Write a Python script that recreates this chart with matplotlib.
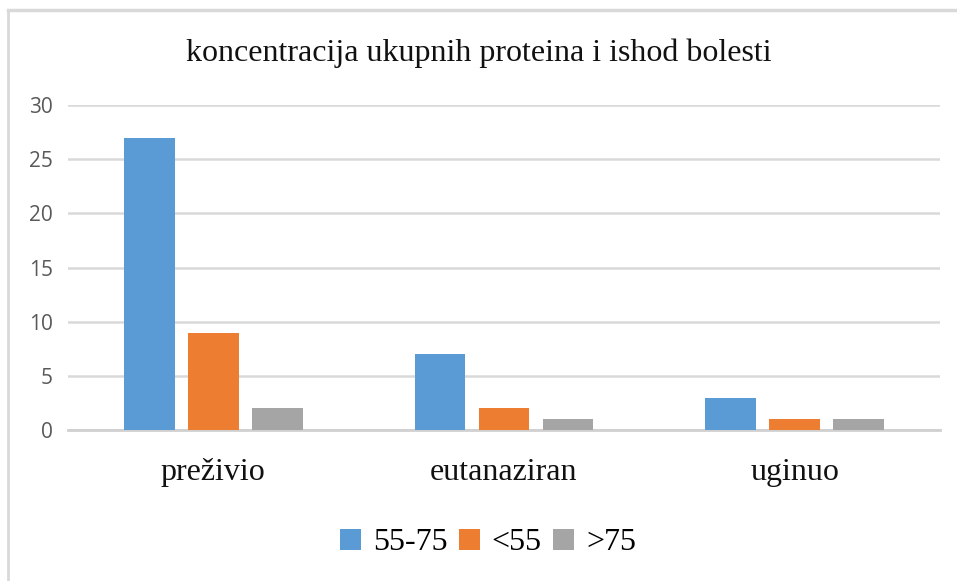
import matplotlib
matplotlib.use("Agg")
import matplotlib.pyplot as plt
import numpy as np
from matplotlib.lines import Line2D

categories = ["preživio", "eutanaziran", "uginuo"]
series_names = ["55-75", "<55", ">75"]
s_55_75 = [27, 7, 3]
s_lt55 = [9, 2, 1]
s_gt75 = [2, 1, 1]
colors = ["#5B9BD5", "#ED7D31", "#A5A5A5"]
yticks = [0, 5, 10, 15, 20, 25, 30]
title = "koncentracija ukupnih proteina i ishod bolesti"

fig = plt.figure(figsize=(9.57, 5.81), dpi=100)
ax = fig.add_axes([68/957, 1-430/581, (940-68)/957, (430-105)/581])

x = np.arange(len(categories))
width = 0.175
step = 0.22
for i, (vals, name, c) in enumerate(zip([s_55_75, s_lt55, s_gt75], series_names, colors)):
    ax.bar(x + (i-1)*step, vals, width=width, color=c, label=name, zorder=3)

ax.set_xlim(-0.5, 2.5)
ax.set_ylim(0, 30)
ax.set_yticks(yticks)
ax.set_xticks(x)
ax.set_xticklabels(categories, family="Liberation Serif", fontsize=23, color="#111111")
for lab in ax.get_yticklabels():
    lab.set_family("Open Sans")
    lab.set_fontsize(15)
    lab.set_color("#595959")
ax.tick_params(axis="both", length=0)
ax.tick_params(axis="y", pad=11)
ax.tick_params(axis="x", pad=20)
ax.grid(axis="y", color="#d9d9d9", linewidth=1.8, zorder=0)
for s in ["top", "right", "left"]:
    ax.spines[s].set_visible(False)
ax.spines["bottom"].set_color("#d0d0d0")
ax.spines["bottom"].set_linewidth(2)

fig.text(0.5, 1-53/581, title, ha="center", va="center",
         family="Liberation Serif", fontsize=23, color="#111111")

leg = fig.legend(loc="center", bbox_to_anchor=(488/957, 1-543/581), ncol=3,
                 frameon=False, prop={"family": "Liberation Serif", "size": 23},
                 handlelength=0.65, handleheight=0.65, handletextpad=0.38,
                 columnspacing=0.36)

# outer border (chart frame)
fig.add_artist(Line2D([8/957, 8/957], [0, 1-10/581], transform=fig.transFigure,
                      color="#d9d9d9", linewidth=2))
fig.add_artist(Line2D([8/957, 1], [1-10/581, 1-10/581], transform=fig.transFigure,
                      color="#d9d9d9", linewidth=2.5))

fig.savefig("out.png", dpi=100)
